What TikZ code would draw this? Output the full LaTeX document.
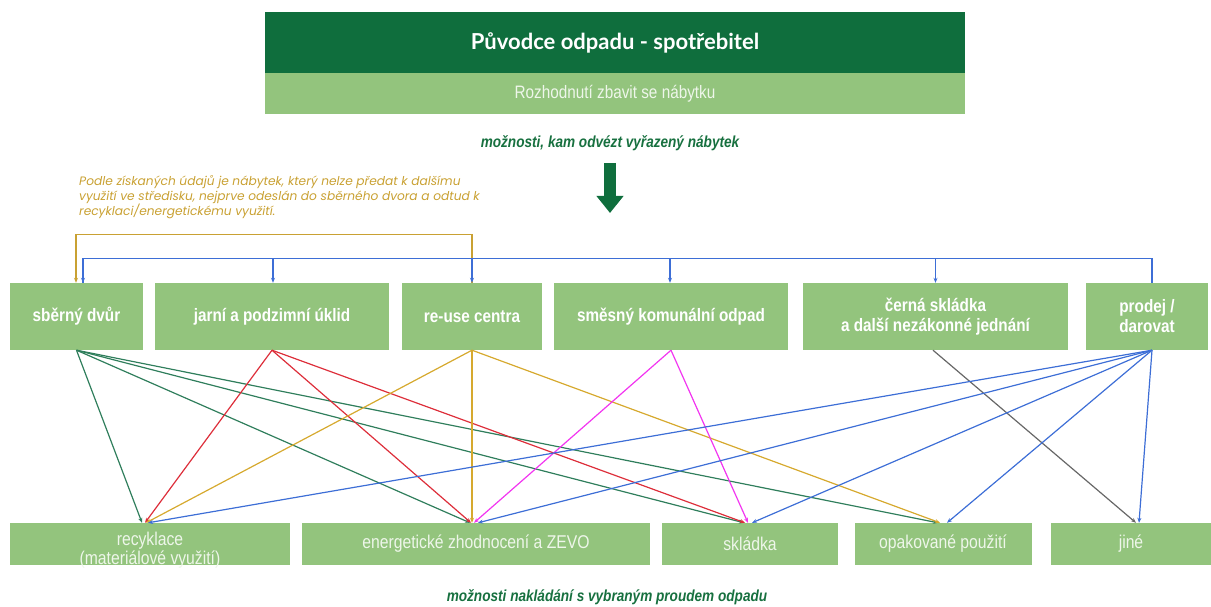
\documentclass[tikz,border=0pt]{standalone}
\usepackage{fontspec}
\setmainfont{Liberation Sans}
\newfontfamily\condfont[FakeStretch=0.85]{Liberation Sans}
\newfontfamily\titlefont{Lato}
\newfontfamily\notefont{Poppins}
\usetikzlibrary{arrows.meta, positioning}

\definecolor{darkHead}{HTML}{0F6E3D}
\definecolor{boxGreen}{HTML}{93C47D}
\definecolor{paleText}{HTML}{EEF6EA}
\definecolor{capGreen}{HTML}{17703F}
\definecolor{noteGold}{HTML}{C9A133}
\definecolor{lnGreen}{HTML}{2F7E5C}
\definecolor{lnRed}{HTML}{DD2E3A}
\definecolor{lnGold}{HTML}{D6A92E}
\definecolor{lnPink}{HTML}{F235F0}
\definecolor{lnGray}{HTML}{676767}
\definecolor{lnBlue}{HTML}{3D6ED6}

\begin{document}
\begin{tikzpicture}[x=1pt, y=-1pt, >={Stealth[length=5pt, width=4pt]}]
      \tikzstyle{headNode} = [rectangle, fill=darkHead, text=white, minimum width=700pt, minimum height=61pt, font=\titlefont\bfseries\fontsize{22}{25}\selectfont]
      \tikzstyle{bandNode} = [rectangle, fill=boxGreen, text=paleText, minimum width=700pt, minimum height=41pt, font=\condfont\fontsize{18}{20}\selectfont]
      \tikzstyle{srcBox} = [rectangle, fill=boxGreen, text=white, minimum height=67pt, inner sep=0pt, align=center, font=\condfont\bfseries\fontsize{18}{20}\selectfont]
      \tikzstyle{dstText} = [text=paleText, inner sep=0pt, align=center, font=\condfont\fontsize{18.5}{17}\selectfont]
      \tikzstyle{dstBox} = [dstText, rectangle, fill=boxGreen, minimum height=42pt]
      \tikzstyle{capText} = [text=capGreen, font=\condfont\bfseries\itshape\fontsize{16}{18}\selectfont]
      \tikzstyle{myLine} = [line width=1.2pt]
      \tikzstyle{busLine} = [draw=lnBlue, line width=1.2pt]

      \useasboundingbox (0,0) rectangle (1211,607);

      % Uzly
      \node at (615,42.5) [headNode] (head) {Původce odpadu - spotřebitel};
      \node at (615,93.5) [bandNode] (band) {Rozhodnutí zbavit se nábytku};
      \node at (610,143) [capText] (capTop) {možnosti, kam odvézt vyřazený nábytek};
      \coordinate (arTop) at (610,163);
      \coordinate (arTip) at (610,213);
      \node at (79,175) [anchor=north west, inner sep=0pt, align=left, text=noteGold, font=\notefont\itshape\fontsize{12.2}{15}\selectfont] (note) {Podle získaných údajů je nábytek, který nelze předat k dalšímu\\využití ve středisku, nejprve odeslán do sběrného dvora a odtud k\\recyklaci/energetickému využití.};

      \node at (76.5,316.5) [srcBox, minimum width=133pt] (sber) {sběrný dvůr};
      \node at (272,316.5) [srcBox, minimum width=234pt] (jarni) {jarní a podzimní úklid};
      \node at (472,316.5) [srcBox, minimum width=140pt] (reuse) {re-use centra};
      \node at (671,316.5) [srcBox, minimum width=234pt] (smesny) {směsný komunální odpad};
      \node at (935.5,316.5) [srcBox, minimum width=265pt] (cerna) {černá skládka\\a další nezákonné jednání};
      \node at (1147,316.5) [srcBox, minimum width=122pt] (prodej) {prodej /\\darovat};

      \node at (150,544) [dstBox, minimum width=280pt] (recykl) {};
      \node at ([yshift=-6pt]recykl.center) [dstText] (recyklTxt) {recyklace\\(materiálové využití)};
      \node at (476,544) [dstBox, minimum width=348pt] (energ) {energetické zhodnocení a ZEVO};
      \node at (750,544) [dstBox, minimum width=176pt] (skladka) {skládka};
      \node at (943,544) [dstBox, minimum width=177pt] (opak) {opakované použití};
      \node at (1131,544) [dstBox, minimum width=160pt] (jine) {jiné};

      \node at (607,597) [capText] (capBot) {možnosti nakládání s vybraným proudem odpadu};

      % Sipky
      \draw [darkHead, line width=12pt, -{Triangle[length=17pt, width=26pt]}] (arTop) -- (arTip);

      \draw [myLine, draw=noteGold, ->] (reuse.north) -- ++(0,-48) -| ([xshift=-0.5pt]sber.north);

      \draw [busLine] ([xshift=5pt]prodej.north) -- ++(0,-24) -| ([xshift=6.5pt]sber.north);
      \draw [busLine, ->] ([xshift=6.5pt]sber.north) ++(0,-24) -- ([xshift=6.5pt]sber.north);
      \draw [busLine, ->] ([xshift=1pt]jarni.north) ++(0,-24) -- ([xshift=1pt]jarni.north);
      \draw [busLine, ->] (reuse.north) ++(0,-24) -- (reuse.north);
      \draw [busLine, ->] ([xshift=-1pt]smesny.north) ++(0,-24) -- ([xshift=-1pt]smesny.north);
      \draw [busLine, ->] (cerna.north) ++(0,-24) -- (cerna.north);

      \draw [myLine, lnGreen, ->] (sber.south) -- ([xshift=-8pt]recykl.north);
      \draw [myLine, lnGreen, ->] (sber.south) -- ([xshift=-6pt]energ.north);
      \draw [myLine, lnGreen, ->] (sber.south) -- ([xshift=-6pt]skladka.north);
      \draw [myLine, lnGreen, ->] (sber.south) -- ([xshift=-5pt]opak.north);

      \draw [myLine, lnRed, ->] (jarni.south) -- ([xshift=-5pt]recykl.north);
      \draw [myLine, lnRed, ->] (jarni.south) -- ([xshift=-5pt]energ.north);
      \draw [myLine, lnRed, ->] (jarni.south) -- ([xshift=-5pt]skladka.north);

      \draw [myLine, lnGold, ->] (reuse.south) -- ([xshift=-4pt]recykl.north);
      \draw [myLine, lnGold, ->] (reuse.south) -- ([xshift=-4pt]energ.north);
      \draw [myLine, lnGold, ->] (reuse.south) -- ([xshift=-3pt]opak.north);

      \draw [myLine, lnPink, ->] (smesny.south) -- ([xshift=-2pt]energ.north);
      \draw [myLine, lnPink, ->] (smesny.south) -- ([xshift=-2pt]skladka.north);

      \draw [myLine, lnGray, ->] ([xshift=-2.5pt]cerna.south) -- ([xshift=5pt]jine.north);

      \draw [myLine, lnBlue, ->] ([xshift=5pt]prodej.south) -- ([xshift=-2pt]recykl.north);
      \draw [myLine, lnBlue, ->] ([xshift=5pt]prodej.south) -- ([xshift=2pt]energ.north);
      \draw [myLine, lnBlue, ->] ([xshift=5pt]prodej.south) -- ([xshift=2pt]skladka.north);
      \draw [myLine, lnBlue, ->] ([xshift=5pt]prodej.south) -- ([xshift=4pt]opak.north);
      \draw [myLine, lnBlue, ->] ([xshift=5pt]prodej.south) -- ([xshift=8pt]jine.north);

\end{tikzpicture}
\end{document}
